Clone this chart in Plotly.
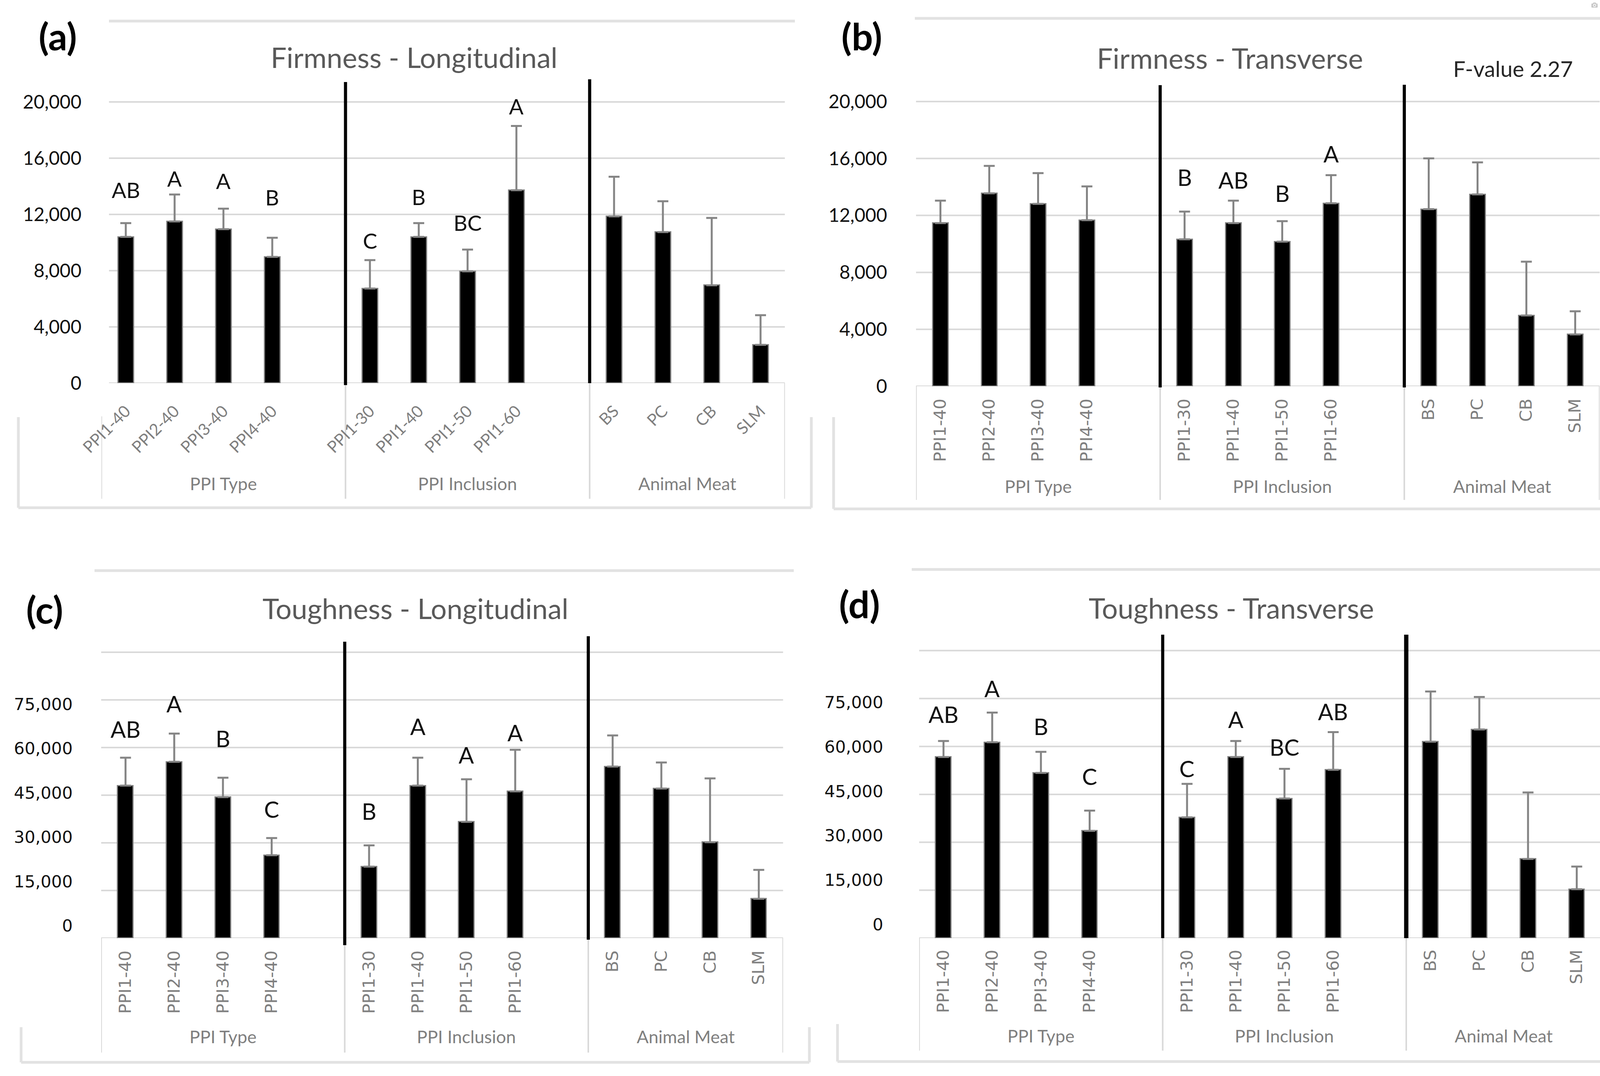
import plotly.graph_objects as go

W, H = 4184, 2755

# ---------------- data ----------------
group_names = ["PPI Type", "PPI Inclusion", "Animal Meat"]
cats_type = ["PPI1-40", "PPI2-40", "PPI3-40", "PPI4-40"]
cats_incl = ["PPI1-30", "PPI1-40", "PPI1-50", "PPI1-60"]
cats_meat = ["BS", "PC", "CB", "SLM"]

firm_long_mean = [10400, 11500, 10950, 8980, 6730, 10400, 7950, 13720, 11860, 10740, 6960, 2720]
firm_long_sd = [980, 1920, 1460, 1360, 2020, 980, 1550, 4570, 2820, 2200, 4790, 2110]
firm_long_letters = ["AB", "A", "A", "B", "C", "B", "BC", "A", "", "", "", ""]

firm_trans_mean = [11460, 13550, 12810, 11670, 10320, 11460, 10160, 12850, 12440, 13480, 4970, 3640]
firm_trans_sd = [1580, 1930, 2160, 2370, 1950, 1580, 1440, 1980, 3570, 2250, 3780, 1630]
firm_trans_letters = ["", "", "", "", "B", "AB", "B", "A", "", "", "", ""]

tough_long_mean = [48000, 55500, 44400, 26100, 22500, 48000, 36600, 46200, 54000, 47100, 30200, 12400]
tough_long_sd = [8800, 8900, 6100, 5400, 6700, 8800, 13400, 13100, 9800, 8200, 20100, 9100]
tough_long_letters = ["AB", "A", "B", "C", "B", "A", "A", "A", "", "", "", ""]

tough_trans_mean = [56700, 61300, 51700, 33600, 37800, 56700, 43700, 52700, 61500, 65300, 24800, 15300]
tough_trans_sd = [5000, 9300, 6600, 6300, 10500, 5000, 9300, 11800, 15700, 10200, 20800, 7100]
tough_trans_letters = ["AB", "A", "B", "C", "C", "A", "BC", "AB", "", "", "", ""]

firm_ticks = [0, 4000, 8000, 12000, 16000, 20000]
tough_ticks = [0, 15000, 30000, 45000, 60000, 75000]
tough_grid = [0, 15000, 30000, 45000, 60000, 75000, 90000]

f_value_text = "F-value 2.27"

# ---------------- layout helpers ----------------
def fx(px):
    return px / W

def fy(py):
    return 1 - py / H

groups = [cats_type, cats_incl, cats_meat]
positions = [g * 5 + k for g, cats in enumerate(groups) for k in range(len(cats))]
labels = cats_type + cats_incl + cats_meat
group_centers = [2, 7, 11.5]
group_bounds = [-0.5, 4.5, 9.5, 13.5]

GRID = "#d9d9d9"
BORDER = "#e2e2e2"
GRAYTXT = "#7f7f7f"
VFONT = dict(family="DejaVu Sans", size=43, color=GRAYTXT)

panels = [
    dict(tag="(a)", tag_xy=(148, 92), title="Firmness - Longitudinal", title_xy=(1060, 146),
         mean=firm_long_mean, sd=firm_long_sd, letters=firm_long_letters,
         lift=[85, 41, 71, 104, 50, 67, 69, 51, 0, 0, 0, 0], lsize=55,
         x0=259.5, slot=125.0, base=981, top=150, ppk=36.0, grid_start=279,
         ticks=firm_ticks, grid=firm_ticks, yfont=dict(family="Lato", size=48, color="#111"),
         ystand=50, lab=None,
         xangle=-45, xfont=dict(family="Lato", size=42, color=GRAYTXT), xstand=38,
         cat_bottom=1277, left_top=1066, glab_y=1238,
         seps=[(4.5, 210, 986, 8), (9.5, 203, 981, 8)],
         borders=[(279, 54, 2035, 54), (47, 1068, 47, 1300), (47, 1300, 2077, 1300), (2077, 1068, 2077, 1300)]),
    dict(tag="(b)", tag_xy=(2206, 92), title="Firmness - Transverse", title_xy=(3148, 148),
         mean=firm_trans_mean, sd=firm_trans_sd, letters=firm_trans_letters,
         lift=[0, 0, 0, 0, 88, 53, 72, 55, 0, 0, 0, 0], lsize=58,
         x0=2345, slot=125.0, base=989, top=150, ppk=36.45, grid_start=2345,
         ticks=firm_ticks, grid=firm_ticks, yfont=dict(family="Lato", size=48, color="#111"),
         ystand=73, lab=None,
         xangle=-90, xfont=VFONT, xstand=22,
         cat_bottom=1280, left_top=989, glab_y=1245,
         seps=[(4.5, 218, 992, 8), (9.5, 217, 992, 8)],
         borders=[(2342, 47, 4150, 47), (4150, 47, 4150, 1303), (2134, 1303, 4150, 1303), (2134, 1068, 2134, 1303)]),
    dict(tag="(c)", tag_xy=(114, 1560), title="Toughness - Longitudinal", title_xy=(1063, 1557),
         mean=tough_long_mean, sd=tough_long_sd, letters=tough_long_letters,
         lift=[74, 77, 101, 74, 88, 81, 63, 44, 0, 0, 0, 0], lsize=58,
         x0=259, slot=124.7, base=2402, top=1590, ppk=8.133, grid_start=259,
         ticks=tough_ticks, grid=tough_grid, yfont=dict(family="DejaVu Sans", size=43, color="#111"),
         ystand=72, lab=(2370, 7.56),
         xangle=-90, xfont=VFONT, xstand=22,
         cat_bottom=2695, left_top=2402, glab_y=2654,
         seps=[(4.5, 1643, 2420, 8), (9.5, 1629, 2406, 8)],
         borders=[(242, 1461, 2032, 1461), (54, 2630, 54, 2720), (54, 2720, 2072, 2720), (2072, 2630, 2072, 2720)]),
    dict(tag="(d)", tag_xy=(2200, 1545), title="Toughness - Transverse", title_xy=(3152, 1556),
         mean=tough_trans_mean, sd=tough_trans_sd, letters=tough_trans_letters,
         lift=[69, 62, 66, 88, 39, 56, 56, 53, 0, 0, 0, 0], lsize=58,
         x0=2353, slot=124.7, base=2402, top=1590, ppk=8.18, grid_start=2353,
         ticks=tough_ticks, grid=tough_grid, yfont=dict(family="DejaVu Sans", size=43, color="#111"),
         ystand=91, lab=(2367, 7.59),
         xangle=-90, xfont=VFONT, xstand=20,
         cat_bottom=2690, left_top=2402, glab_y=2652,
         seps=[(4.5, 1625, 2402, 8), (9.5, 1625, 2402, 11)],
         borders=[(2334, 1458, 4160, 1458), (4160, 1458, 4160, 2718), (2144, 2718, 4160, 2718), (2144, 2622, 2144, 2718)]),
]

fig = go.Figure()
layout = dict(width=W, height=H, margin=dict(l=0, r=0, t=0, b=0, pad=0, autoexpand=False),
              autosize=False, paper_bgcolor="white", plot_bgcolor="rgba(0,0,0,0)",
              showlegend=False, bargap=0)
shapes = []
annotations = []

for i, p in enumerate(panels, start=1):
    xname, yname = f"x{i}", f"y{i}"
    xkey, ykey = f"xaxis{i}", f"yaxis{i}"
    x1px = p["x0"] + 14 * p["slot"]
    ymax = (p["base"] - p["top"]) / p["ppk"] * 1000

    fig.add_trace(go.Bar(
        x=positions, y=p["mean"], xaxis=xname, yaxis=yname, width=0.32,
        marker=dict(color="black", line=dict(color="#808080", width=3)),
        error_y=dict(type="data", symmetric=False, array=p["sd"], arrayminus=[0] * len(p["sd"]),
                     color="#858585", thickness=5, width=14),
        hoverinfo="skip"))

    layout[xkey] = dict(domain=[fx(p["x0"]), fx(x1px)], range=[-0.5, 13.5], anchor=yname,
                        tickmode="array", tickvals=positions, ticktext=labels,
                        tickangle=p["xangle"], tickfont=p["xfont"], ticks="",
                        ticklabelstandoff=p["xstand"], showgrid=False, zeroline=False,
                        showline=False, fixedrange=True, automargin=False)
    ylab_on = p["lab"] is None
    layout[ykey] = dict(domain=[fy(p["base"]), fy(p["top"])], range=[0, ymax], anchor=xname,
                        tickmode="array", tickvals=p["ticks"], tickformat=",d",
                        showticklabels=ylab_on, tickfont=p["yfont"], ticks="",
                        ticklabelstandoff=p["ystand"], showgrid=False, zeroline=False,
                        showline=False, fixedrange=True, automargin=False)

    if p["lab"] is not None:
        lab0, lppk = p["lab"]
        li = i + 2
        lab_key = f"yaxis{li}"
        layout[lab_key] = dict(overlaying=yname, anchor=xname, side="left",
                               range=[-(p["base"] - lab0) / lppk * 1000, (lab0 - p["top"]) / lppk * 1000],
                               tickmode="array", tickvals=p["ticks"], tickformat=",d",
                               tickfont=p["yfont"], ticks="", ticklabelstandoff=p["ystand"],
                               showgrid=False, zeroline=False, showline=False, fixedrange=True,
                               automargin=False)
        fig.add_trace(go.Scatter(x=[None], y=[None], xaxis=xname, yaxis=f"y{li}",
                                 mode="markers", showlegend=False, hoverinfo="skip"))

    # gridlines
    gstart = (p["grid_start"] - p["x0"]) / p["slot"] - 0.5
    for v in p["grid"]:
        shapes.append(dict(type="line", xref=xname, yref=yname, x0=gstart, x1=13.5, y0=v, y1=v,
                           line=dict(color=GRID, width=4), layer="below"))
    # category axis group boxes
    for j, b in enumerate(group_bounds):
        ytop = p["left_top"] if j == 0 else p["base"]
        shapes.append(dict(type="line", xref=xname, yref="paper", x0=b, x1=b,
                           y0=fy(ytop), y1=fy(p["cat_bottom"]),
                           line=dict(color=GRID, width=4), layer="below"))
    # group separators
    for (sx, st, sb, sw) in p["seps"]:
        shapes.append(dict(type="line", xref=xname, yref="paper", x0=sx, x1=sx,
                           y0=fy(sb), y1=fy(st), line=dict(color="black", width=sw), layer="above"))
    # chart borders
    for (bx0, by0, bx1, by1) in p["borders"]:
        shapes.append(dict(type="line", xref="paper", yref="paper", x0=fx(bx0), x1=fx(bx1),
                           y0=fy(by0), y1=fy(by1), line=dict(color=BORDER, width=7), layer="below"))
    # group labels
    for gname, gc in zip(group_names, group_centers):
        annotations.append(dict(text=gname, xref=xname, yref="paper", x=gc, y=fy(p["glab_y"]),
                                showarrow=False, xanchor="center", yanchor="middle",
                                font=dict(family="Lato", size=45, color=GRAYTXT)))
    # significance letters
    for xp, m, s, let, lift in zip(positions, p["mean"], p["sd"], p["letters"], p["lift"]):
        if let:
            annotations.append(dict(text=let, xref=xname, yref=yname, x=xp, y=m + s,
                                    yshift=lift, showarrow=False, xanchor="center",
                                    yanchor="middle",
                                    font=dict(family="Lato", size=p["lsize"], color="#111")))
    # title and panel tag
    annotations.append(dict(text=p["title"], xref="paper", yref="paper",
                            x=fx(p["title_xy"][0]), y=fy(p["title_xy"][1]), showarrow=False,
                            xanchor="center", yanchor="middle",
                            font=dict(family="Lato", size=72, color="#595959")))
    annotations.append(dict(text="<b>" + p["tag"] + "</b>", xref="paper", yref="paper",
                            x=fx(p["tag_xy"][0]), y=fy(p["tag_xy"][1]), showarrow=False,
                            xanchor="center", yanchor="middle",
                            font=dict(family="Lato", size=96, color="black")))

annotations.append(dict(text=f_value_text, xref="paper", yref="paper", x=fx(3873), y=fy(175),
                        showarrow=False, xanchor="center", yanchor="middle",
                        font=dict(family="Lato", size=56, color="#262626")))

layout["shapes"] = shapes
layout["annotations"] = annotations
fig.update_layout(**layout)
fig.write_html("out.html",
               post_script="document.body.style.margin='0px';document.body.style.overflow='hidden';")
